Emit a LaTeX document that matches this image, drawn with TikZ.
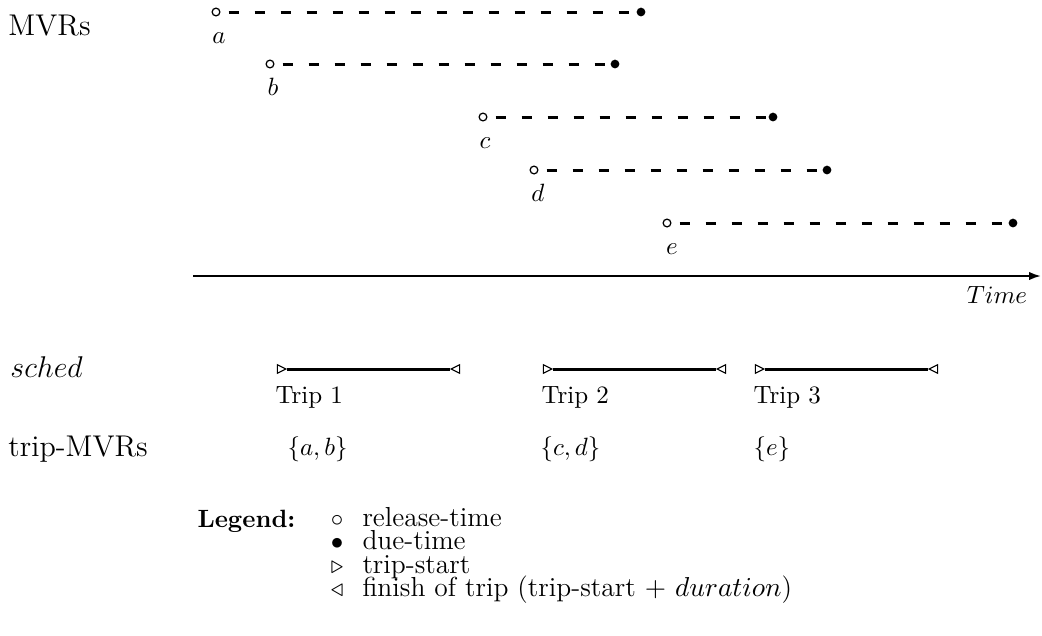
\documentclass[tikz,border=0pt]{standalone}
\usetikzlibrary{arrows.meta,shapes.geometric}
\begin{document}
\begin{tikzpicture}[x=0.4pt,y=-0.4pt,
  rel/.style={circle,draw,line width=0.5pt,fill=white,inner sep=0pt,minimum size=3.1pt},
  due/.style={circle,fill,inner sep=0pt,minimum size=3.5pt},
  mvr/.style={line width=1.2pt,dash pattern=on 4pt off 6.4pt},
  lbl/.style={anchor=base,inner sep=0pt},
  txt/.style={anchor=base west,inner sep=0pt},
  side/.style={anchor=base west,inner sep=0pt,font=\large},
  legsym/.style={anchor=base,inner sep=0pt,font=\fontsize{10}{12}\selectfont},
  legtxt/.style={anchor=base west,inner sep=0pt,font=\fontsize{11}{13}\selectfont},
  axisline/.style={line width=0.8pt,-{Latex[length=4.8pt,width=3.4pt]}},
  tmark/.style={isosceles triangle,isosceles triangle stretches,draw,line width=0.45pt,
     inner sep=0pt,minimum width=3.4pt,minimum height=3.4pt},
  tstart/.style={tmark},
  tend/.style={tmark,shape border rotate=180},
  tripbar/.style={line width=1.2pt}]
\useasboundingbox (0,0) rectangle (1042,635);

% left labels
\node[side] (mvrs) at (8,35) {MVRs};
\node[side] (sched) at (10,377) {$sched$};
\node[side] (tmvrs) at (8,456) {trip-MVRs};

% MVR intervals
\node[rel] (ra) at (216,12) {};
\node[due] (da) at (641,12) {};
\draw[mvr] ([xshift=3.2pt]ra.east) -- (da.west);
\node[lbl] (la) at (219,43) {$a$};

\node[rel] (rb) at (270,64) {};
\node[due] (db) at (615,64) {};
\draw[mvr] ([xshift=3.2pt]rb.east) -- (db.west);
\node[lbl] (lb) at (273,95) {$b$};

\node[rel] (rc) at (483,117) {};
\node[due] (dc) at (773,117) {};
\draw[mvr] ([xshift=3.2pt]rc.east) -- (dc.west);
\node[lbl] (lc) at (485,148) {$c$};

\node[rel] (rd) at (534,170) {};
\node[due] (dd) at (827,170) {};
\draw[mvr] ([xshift=3.2pt]rd.east) -- (dd.west);
\node[lbl] (ld) at (538,201) {$d$};

\node[rel] (re) at (667,223) {};
\node[due] (de) at (1013,223) {};
\draw[mvr] ([xshift=3.2pt]re.east) -- (de.west);
\node[lbl] (le) at (672,254) {$e$};

% time axis
\coordinate (t0) at (193,276);
\coordinate (t1) at (1041,276);
\draw[axisline] (t0) -- (t1);
\node[lbl] (time) at (997,303) {$Time$};

% trips
\node[tstart] (s1) at (280,369) {};
\node[tend] (e1) at (457,369) {};
\draw[tripbar] (s1.apex) -- (e1.apex);
\node[txt] (tr1) at (275,403) {Trip 1};

\node[tstart] (s2) at (546,369) {};
\node[tend] (e2) at (723,369) {};
\draw[tripbar] (s2.apex) -- (e2.apex);
\node[txt] (tr2) at (541,403) {Trip 2};

\node[tstart] (s3) at (758,369) {};
\node[tend] (e3) at (935,369) {};
\draw[tripbar] (s3.apex) -- (e3.apex);
\node[txt] (tr3) at (753,403) {Trip 3};

% trip MVR sets
\node[txt] (set1) at (287,455) {$\{a,b\}$};
\node[txt] (set2) at (540,455) {$\{c,d\}$};
\node[txt] (set3) at (753,455) {$\{e\}$};

% legend
\node[txt] (leg) at (197,527) {\textbf{Legend:}};
\node[legsym] (sy1) at (337,526) {$\circ$};
\node[legsym] (sy2) at (337,549.5) {$\bullet$};
\node[legsym] (sy3) at (337,573) {$\triangleright$};
\node[legsym] (sy4) at (337,596.5) {$\triangleleft$};
\node[legtxt] (lt1) at (362,526) {release-time};
\node[legtxt] (lt2) at (362,549.5) {due-time};
\node[legtxt] (lt3) at (362,573) {trip-start};
\node[legtxt] (lt4) at (362,596.5) {finish of trip (trip-start $+$ $duration$)};
\end{tikzpicture}
\end{document}
